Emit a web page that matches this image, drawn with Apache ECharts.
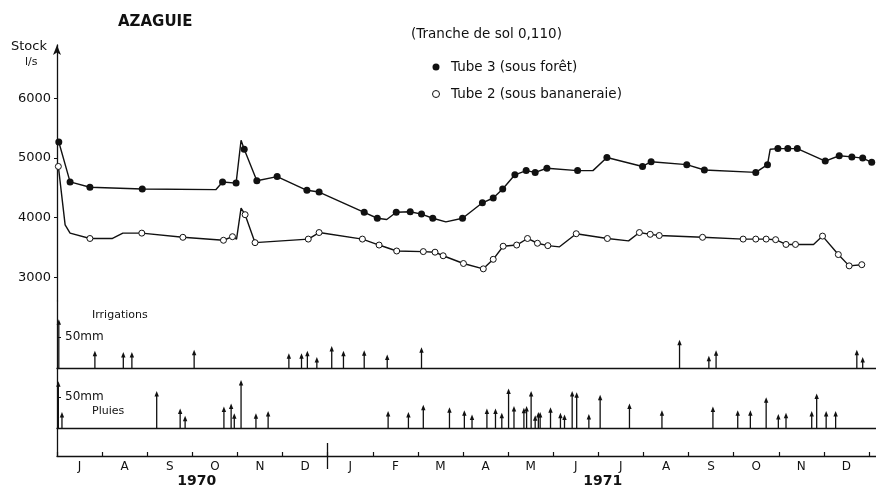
<!DOCTYPE html>
<html>
<head>
<meta charset="utf-8">
<script src="https://cdn.jsdelivr.net/npm/echarts@6/dist/echarts.min.js"></script>
<style>html,body{margin:0;padding:0;background:#fff}#c{width:876px;height:489px}</style>
</head>
<body>
<div id="c"></div>
<script>
// time in months since 1 July 1970 (0 = 1 Jul 1970, 6 = 1 Jan 1971, 18 = 1 Jan 1972)
const monthNames = ['J','A','S','O','N','D','J','F','M','A','M','J','J','A','S','O','N','D'];
const yearLabels = ['1970','1971'];
const yearPos = [3.1, 12.1];
const stockTicks = [3000, 4000, 5000, 6000];

// Tube 3 (sous forêt) - stock l/s ; dot = 1 where a point marker is drawn
const tube3T = [0.04,0.29,0.73,1.89,3.52,3.67,3.97,4.08,4.15,4.43,4.88,5.54,5.81,6.81,7.10,7.31,7.52,7.83,8.08,8.33,8.62,8.99,9.43,9.67,9.88,10.15,10.40,10.60,10.86,11.54,11.88,12.19,12.98,13.17,13.96,14.35,15.49,15.75,15.81,15.98,16.20,16.41,17.03,17.34,17.62,17.86,18.06];
const tube3V = [5270,4600,4510,4480,4470,4600,4580,5300,5150,4620,4690,4460,4430,4090,3990,3970,4090,4100,4060,3990,3930,3990,4250,4330,4480,4720,4790,4760,4830,4790,4790,5010,4860,4940,4890,4800,4760,4890,5150,5160,5160,5160,4950,5040,5020,5000,4930];
const tube3Dot = [1,1,1,1,0,1,1,0,1,1, 1,1,1,1,1,0,1,1,1,1, 0,1,1,1,1,1,1,1,1,1, 0,1,1,1,1,1,1,1,0,1, 1,1,1,1,1,1,1];

// Tube 2 (sous bananeraie)
const tube2T = [0.03,0.18,0.29,0.73,1.23,1.46,1.88,2.79,3.69,3.89,3.98,4.08,4.17,4.39,5.57,5.81,6.77,7.14,7.53,8.12,8.38,8.56,9.01,9.45,9.67,9.89,10.19,10.43,10.65,10.88,11.14,11.51,12.20,12.67,12.91,13.15,13.35,14.31,15.21,15.49,15.72,15.93,16.16,16.37,16.77,16.97,17.32,17.56,17.84];
const tube2V = [4860,3880,3740,3650,3650,3740,3740,3670,3620,3680,3640,4160,4050,3580,3640,3750,3640,3540,3440,3430,3420,3360,3230,3140,3300,3520,3540,3650,3570,3530,3510,3730,3650,3610,3750,3720,3700,3670,3640,3640,3640,3630,3550,3550,3550,3690,3380,3190,3210];
const tube2Dot = [1,0,0,1,0,0,1,1,1,1, 0,0,1,1,1,1,1,1,1,1, 1,1,1,1,1,1,1,1,1,1, 0,1,1,0,1,1,1,1,1,1, 1,1,1,1,0,1,1,1,1];

// Irrigations (mm)
const irrigT = [0.04,0.84,1.47,1.66,3.04,5.14,5.42,5.55,5.76,6.09,6.35,6.81,7.32,8.08,13.80,14.45,14.61,17.73,17.86];
const irrigMM = [77,26,24,24,28,22,22,26,16,34,26,27,20,32,44,18,27,28,16];

// Pluies (mm)
const rainT = [0.03,0.11,2.21,2.73,2.84,3.70,3.86,3.93,4.08,4.41,4.68,7.34,7.79,8.12,8.70,9.03,9.20,9.53,9.72,9.86,10.01,10.13,10.35,10.41,10.51,10.60,10.67,10.71,10.94,11.16,11.25,11.42,11.52,11.79,12.04,12.69,13.41,14.54,15.09,15.37,15.72,15.99,16.16,16.73,16.84,17.05,17.26];
const rainMM = [74,24,58,30,18,33,38,22,76,22,26,26,24,36,32,27,20,30,30,23,62,34,31,34,58,19,24,24,32,23,20,58,56,21,52,38,27,33,27,27,48,21,23,26,54,26,26];

const FONT = 'DejaVu Sans';
const INK = '#111';
const XMAX = 18.155;

const monthBounds = monthNames.map((_, i) => i).concat([monthNames.length]);
const monthMids = monthNames.map((_, i) => i + 0.5);

function lineData(T, V, D) {
  return T.map((t, i) => D[i] ? [t, V[i]] : { value: [t, V[i]], symbol: 'none' });
}
function arrowItem(params, api) {
  const t = api.value(0), v = api.value(1);
  const b = api.coord([t, 0]), p = api.coord([t, v]);
  return {
    type: 'group',
    children: [
      { type: 'line', shape: { x1: b[0], y1: b[1], x2: p[0], y2: p[1] + 2 }, style: { stroke: INK, lineWidth: 1.3 } },
      { type: 'polygon', shape: { points: [[p[0], p[1] - 1], [p[0] - 2.2, p[1] + 4.5], [p[0] + 2.2, p[1] + 4.5]] }, style: { fill: INK } }
    ]
  };
}

const baseX = { type: 'value', min: 0, max: XMAX, splitLine: { show: false } };
const hiddenAxisBits = { axisTick: { show: false }, axisLabel: { show: false } };

const chart = echarts.init(document.getElementById('c'), null, { renderer: 'canvas' });
chart.setOption({
  animation: false,
  backgroundColor: '#fff',
  textStyle: { fontFamily: FONT, color: INK },
  title: { text: 'AZAGUIE', left: 113, top: 10, textStyle: { fontFamily: FONT, fontSize: 15, fontWeight: 'bold', color: INK } },
  legend: {
    orient: 'vertical', left: 427, top: 55, itemGap: 13, itemWidth: 20, itemHeight: 7,
    textStyle: { fontFamily: FONT, fontSize: 13.5, color: INK },
    data: [
      { name: 'Tube 3 (sous forêt)', icon: 'circle' },
      { name: 'Tube 2 (sous bananeraie)', icon: 'circle', itemStyle: { color: '#fff', borderColor: INK, borderWidth: 1 } }
    ]
  },
  graphic: [
    { type: 'text', left: 11, top: 40, style: { text: 'Stock', font: '13px "DejaVu Sans"', fill: INK } },
    { type: 'text', left: 25, top: 57, style: { text: 'l/s', font: '11px "DejaVu Sans"', fill: INK } },
    { type: 'text', left: 411, top: 27, style: { text: '(Tranche de sol 0,110)', font: '13.5px "DejaVu Sans"', fill: INK } },
    { type: 'text', left: 92, top: 310, style: { text: 'Irrigations', font: '11px "DejaVu Sans"', fill: INK } },
    { type: 'text', left: 92, top: 406, style: { text: 'Pluies', font: '11px "DejaVu Sans"', fill: INK } }
  ],
  grid: [
    { left: 57, right: 0, top: 45, height: 256 },
    { left: 57, right: 0, top: 301, height: 67 },
    { left: 57, right: 0, top: 368, height: 60 },
    { left: 57, right: 0, top: 428, height: 28 }
  ],
  xAxis: [
    Object.assign({}, baseX, { gridIndex: 0, show: false }),
    Object.assign({}, baseX, hiddenAxisBits, { gridIndex: 1, axisLine: { lineStyle: { color: INK, width: 1.3 } } }),
    Object.assign({}, baseX, hiddenAxisBits, { gridIndex: 2, axisLine: { lineStyle: { color: INK, width: 1.3 } } }),
    Object.assign({}, baseX, {
      gridIndex: 3,
      axisLine: { lineStyle: { color: INK, width: 1.3 } },
      axisTick: { customValues: monthBounds, inside: true, length: 4, lineStyle: { color: INK, width: 1.2 } },
      axisLabel: { customValues: monthMids, formatter: v => monthNames[Math.floor(v)] || '', fontFamily: FONT, fontSize: 12, color: INK, margin: 5 }
    }),
    Object.assign({}, baseX, {
      gridIndex: 3, position: 'bottom',
      axisLine: { show: false },
      axisTick: { customValues: [6], length: 13, lineStyle: { color: INK, width: 1.3 } },
      axisLabel: { customValues: yearPos, formatter: v => { const k = yearPos.findIndex(p => Math.abs(p - v) < 1e-6); return k >= 0 ? yearLabels[k] : ''; }, fontFamily: FONT, fontSize: 14, fontWeight: 'bold', color: INK, margin: 18 }
    }),
    Object.assign({}, baseX, {
      gridIndex: 3, position: 'bottom',
      axisLine: { show: false },
      axisTick: { customValues: [6], inside: true, length: 13, lineStyle: { color: INK, width: 1.3 } },
      axisLabel: { show: false }
    })
  ],
  yAxis: [
    {
      type: 'value', gridIndex: 0, min: 2600, max: 6900, splitLine: { show: false },
      axisLine: { show: true, symbol: ['none', 'arrow'], symbolSize: [6, 10], lineStyle: { color: INK, width: 1.3 } },
      axisTick: { customValues: stockTicks, length: 3, lineStyle: { color: INK } },
      axisLabel: { customValues: stockTicks, formatter: v => String(v), fontFamily: FONT, fontSize: 13, color: INK, margin: 6 }
    },
    {
      type: 'value', gridIndex: 1, min: 0, max: 108, splitLine: { show: false },
      axisLine: { show: true, lineStyle: { color: INK, width: 1.3 } },
      axisTick: { customValues: [50], inside: true, length: 4, lineStyle: { color: INK } },
      axisLabel: { customValues: [50], inside: true, formatter: v => v + 'mm', fontFamily: FONT, fontSize: 12, color: INK, margin: 8 }
    },
    {
      type: 'value', gridIndex: 2, min: 0, max: 96.8, splitLine: { show: false },
      axisLine: { show: true, lineStyle: { color: INK, width: 1.3 } },
      axisTick: { customValues: [50], inside: true, length: 4, lineStyle: { color: INK } },
      axisLabel: { customValues: [50], inside: true, formatter: v => v + 'mm', fontFamily: FONT, fontSize: 12, color: INK, margin: 8 }
    },
    {
      type: 'value', gridIndex: 3, min: 0, max: 1, splitLine: { show: false },
      axisLine: { show: true, lineStyle: { color: INK, width: 1.3 } },
      axisTick: { show: false }, axisLabel: { show: false }
    }
  ],
  series: [
    {
      name: 'Tube 3 (sous forêt)', type: 'line', xAxisIndex: 0, yAxisIndex: 0,
      data: lineData(tube3T, tube3V, tube3Dot),
      symbol: 'circle', symbolSize: 7, showAllSymbol: true,
      itemStyle: { color: INK },
      lineStyle: { color: INK, width: 1.4 }
    },
    {
      name: 'Tube 2 (sous bananeraie)', type: 'line', xAxisIndex: 0, yAxisIndex: 0,
      data: lineData(tube2T, tube2V, tube2Dot),
      symbol: 'circle', symbolSize: 6, showAllSymbol: true,
      itemStyle: { color: '#fff', borderColor: INK, borderWidth: 1 },
      lineStyle: { color: INK, width: 1.4 }, z: 3
    },
    {
      name: 'Irrigations', type: 'custom', xAxisIndex: 1, yAxisIndex: 1,
      renderItem: arrowItem, encode: { x: 0, y: 1 },
      data: irrigT.map((t, i) => [t, irrigMM[i]])
    },
    {
      name: 'Pluies', type: 'custom', xAxisIndex: 2, yAxisIndex: 2,
      renderItem: arrowItem, encode: { x: 0, y: 1 },
      data: rainT.map((t, i) => [t, rainMM[i]])
    }
  ]
});
</script>
</body>
</html>
